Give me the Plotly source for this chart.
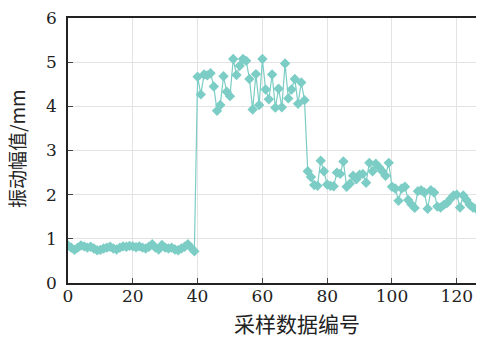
import plotly.graph_objects as go

low_vals = [0.85, 0.80, 0.75, 0.80, 0.85, 0.83, 0.80, 0.82, 0.78, 0.74,
            0.75, 0.78, 0.80, 0.82, 0.78, 0.76, 0.80, 0.83, 0.82, 0.84,
            0.83, 0.81, 0.83, 0.80, 0.78, 0.82, 0.88, 0.80, 0.76, 0.86,
            0.80, 0.78, 0.80, 0.76, 0.74, 0.78, 0.82, 0.88, 0.80, 0.72]
high_vals = [4.67, 4.27, 4.72, 4.70, 4.75, 4.45, 3.90, 4.03, 4.68, 4.33,
             4.23, 5.07, 4.71, 4.92, 5.07, 5.03, 4.62, 3.93, 4.73, 4.03,
             5.07, 4.38, 4.16, 4.72, 3.97, 4.40, 3.98, 4.97, 4.18, 4.38,
             4.62, 4.06, 4.54, 4.14]
mid_vals = [2.53, 2.40, 2.22, 2.20, 2.77, 2.53, 2.23, 2.20, 2.19, 2.50,
            2.47, 2.75, 2.18, 2.25, 2.43, 2.35, 2.45, 2.47, 2.27, 2.72,
            2.53, 2.70, 2.62, 2.53, 2.43, 2.72, 2.18, 2.14, 1.86, 2.14,
            2.18, 1.88, 1.78, 1.70, 2.08, 2.10, 2.05, 1.68, 2.10, 2.05,
            1.73, 1.71, 1.77, 1.81, 1.90, 1.98, 2.00, 1.71, 1.98, 1.88,
            1.77, 1.71, 1.68, 1.66, 1.80]
values = low_vals + high_vals + mid_vals
samples = list(range(len(values)))

x_ticks = [0, 20, 40, 60, 80, 100, 120]
y_ticks = [0, 1, 2, 3, 4, 5, 6]

color = "#7ccdc5"
fig = go.Figure()
fig.add_trace(go.Scatter(
    x=samples, y=values, mode="lines+markers",
    line=dict(color=color, width=1.2),
    marker=dict(symbol="diamond", size=8, color=color),
    cliponaxis=True, showlegend=False,
))

# page is drawn with an 8px body margin; figure coordinates are page - 8
W, H = 476, 331
L, T, B = 60, 4, 56
serif = "DejaVu Serif"
fig.update_layout(
    width=W, height=H,
    margin=dict(l=L, r=0, t=T, b=B),
    paper_bgcolor="white", plot_bgcolor="white",
    font=dict(family=serif, size=17, color="#222"),
    xaxis=dict(range=[0, 128.4], tickvals=x_ticks, ticks="inside", ticklen=5,
               showgrid=True, gridcolor="#e3e3e3", gridwidth=1,
               showline=True, linecolor="#222", linewidth=1.5, mirror=True,
               zeroline=False, tickfont=dict(family=serif, size=17),
               ticklabelstandoff=-3, ticklabeloverflow="allow"),
    yaxis=dict(range=[0, 6], tickvals=y_ticks, ticks="inside", ticklen=5,
               showgrid=True, gridcolor="#e3e3e3", gridwidth=1,
               showline=True, linecolor="#222", linewidth=1.5,
               zeroline=False, tickfont=dict(family=serif, size=17),
               ticklabelstandoff=6, ticklabeloverflow="allow"),
)
pw, ph = W - L, H - T - B
fig.add_annotation(text="采样数据编号", x=(289 - L) / pw, y=(H - B - 316) / ph,
                   xref="paper", yref="paper", showarrow=False, yanchor="middle",
                   font=dict(family="Noto Sans CJK SC", size=21, color="#222"))
fig.add_annotation(text="振动幅值/mm", x=(8 - L) / pw, y=(H - B - 138) / ph,
                   xref="paper", yref="paper", showarrow=False, textangle=-90,
                   xanchor="center", yanchor="middle",
                   font=dict(family="Noto Sans CJK SC", size=19, color="#222"))

fig.write_html("out.html")
